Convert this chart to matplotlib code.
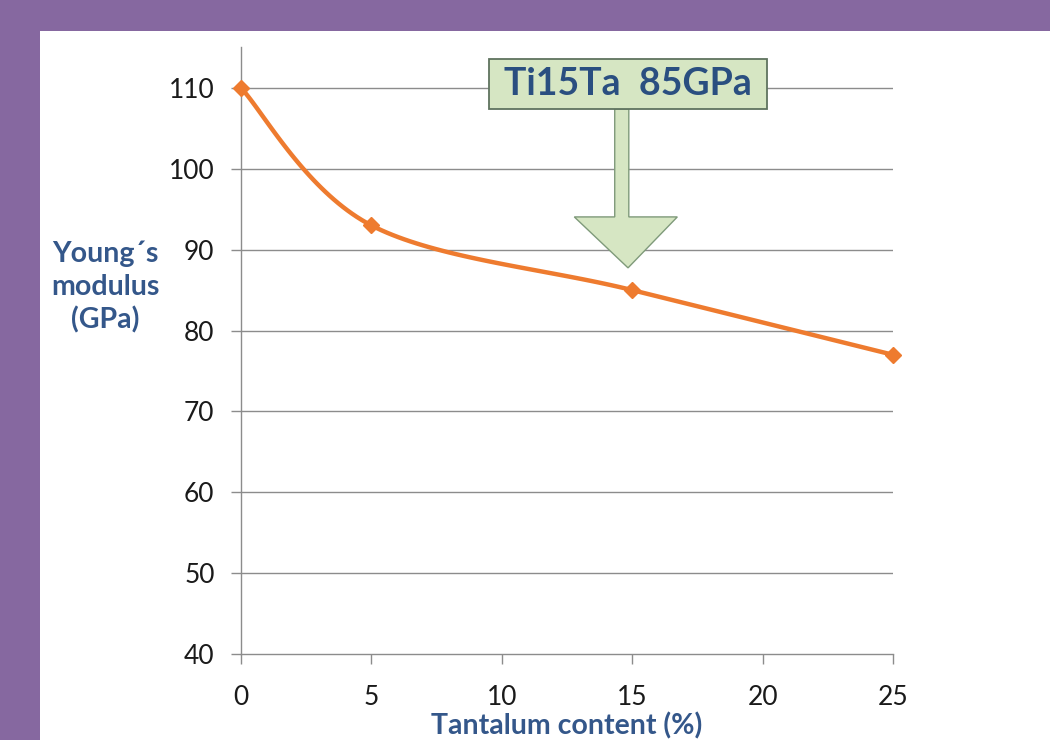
import numpy as np
import matplotlib.pyplot as plt
from matplotlib.patches import Rectangle, Polygon

# データ
tantalum = [0, 5, 15, 25]
modulus = [110, 93, 85, 77]
yticks = [40, 50, 60, 70, 80, 90, 100, 110]
xticks = [0, 5, 10, 15, 20, 25]

LINE_COLOR = '#EE7B2F'
TEXT_BLUE = '#34578A'
FONT = ['Lato', 'DejaVu Sans']

plt.rcParams['font.family'] = FONT


def smooth_curve(xs, ys, steps=40):
    """Excel風のスムージング (Catmull-Rom)"""
    pts = np.column_stack([xs, ys]).astype(float)
    pts = np.vstack([pts[0], pts, pts[-1]])
    out = []
    for i in range(1, len(pts) - 2):
        p0, p1, p2, p3 = pts[i - 1], pts[i], pts[i + 1], pts[i + 2]
        c1 = p1 + (p2 - p0) / 6
        c2 = p2 - (p3 - p1) / 6
        t = np.linspace(0, 1, steps)[:, None]
        seg = ((1 - t) ** 3) * p1 + 3 * ((1 - t) ** 2) * t * c1 \
            + 3 * (1 - t) * t ** 2 * c2 + t ** 3 * p2
        out.append(seg if i == 1 else seg[1:])
    out = np.vstack(out)
    return out[:, 0], out[:, 1]


fig = plt.figure(figsize=(10.5, 7.4), dpi=100)
fig.patch.set_facecolor('#8668A0')
# 白いパネル
fig.patches.append(Rectangle((40 / 1050, 0), 1.0, 1 - 31 / 740,
                             transform=fig.transFigure, facecolor='white',
                             edgecolor='none', zorder=-5))

ax = fig.add_axes([241 / 1050, 1 - 654 / 740, 652 / 1050, 606.5 / 740])
ax.set_zorder(2)
ax.set_facecolor('none')
ax.set_xlim(0, 25)
ax.set_ylim(40, 115)

# グリッド
for y in yticks[1:]:
    ax.axhline(y, color='#8C8C8C', lw=1.0, zorder=1)

for s in ['top', 'right']:
    ax.spines[s].set_visible(False)
for s in ['left', 'bottom']:
    ax.spines[s].set_color('#8C8C8C')
    ax.spines[s].set_linewidth(1.0)

ax.set_xticks(xticks)
ax.set_yticks(yticks)
ax.tick_params(axis='both', direction='out', length=7, width=1.0,
               color='#8C8C8C', labelsize=19, labelcolor='#1A1A1A')
ax.tick_params(axis='x', pad=15)
ax.tick_params(axis='y', pad=12)

# 曲線
sx, sy = smooth_curve(tantalum, modulus)
ax.plot(sx, sy, color=LINE_COLOR, lw=3.2, solid_capstyle='round', zorder=3)
ax.plot(tantalum, modulus, linestyle='none', marker='D', markersize=8,
        color=LINE_COLOR, zorder=4, clip_on=False)

# 軸ラベル
fig.text(105 / 1050, 1 - 287 / 740, 'Young\u00b4s\nmodulus\n(GPa)',
         ha='center', va='center', fontsize=20.5, fontweight='bold',
         color=TEXT_BLUE, linespacing=1.3, zorder=3)
fig.text(567 / 1050, 1 - 726 / 740, 'Tantalum content (%)',
         ha='center', va='center', fontsize=20.5, fontweight='bold',
         color=TEXT_BLUE, zorder=3)

# 注釈ボックスと矢印
box_fill = '#D6E6C3'
box_edge = '#5F735F'
shaft = [(14.33, 107.4), (14.87, 107.4), (14.87, 94.05), (16.73, 94.05),
         (14.84, 87.75), (12.78, 94.05), (14.33, 94.05)]
ax.add_patch(Polygon(shaft, closed=True, facecolor=box_fill,
                     edgecolor='#7F9A7A', lw=1.0, zorder=5, clip_on=False))
ax.add_patch(Rectangle((9.51, 107.4), 20.17 - 9.51, 113.6 - 107.4,
                       facecolor=box_fill, edgecolor=box_edge, lw=1.3,
                       zorder=6, clip_on=False))
ax.text((9.51 + 20.17) / 2, (107.4 + 113.6) / 2, 'Ti15Ta  85GPa',
        ha='center', va='center', fontsize=27, fontweight='bold',
        color='#2A4F80', zorder=7)

fig.savefig('out.png', dpi=100, facecolor=fig.get_facecolor())
